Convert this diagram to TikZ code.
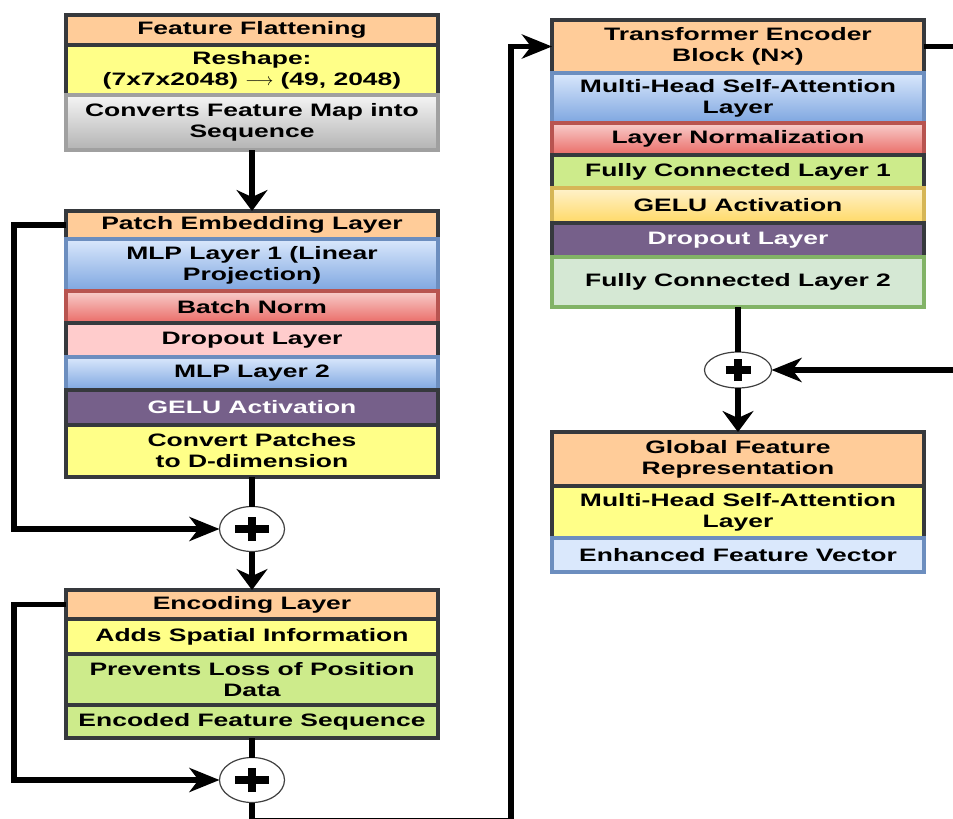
\documentclass[tikz,border=0pt]{standalone}
\usepackage{fontspec}
\setmainfont{Liberation Sans}[FakeStretch=1.47]
\usetikzlibrary{arrows.meta,positioning,shapes.geometric}

\definecolor{orangeF}{HTML}{FFCC99}
\definecolor{darkS}{HTML}{36393D}
\definecolor{yellowF}{HTML}{FFFF88}
\definecolor{blueT}{HTML}{DAE8FC}
\definecolor{blueB}{HTML}{7EA6E0}
\definecolor{blueS}{HTML}{6C8EBF}
\definecolor{redT}{HTML}{F8CECC}
\definecolor{redB}{HTML}{EA6B66}
\definecolor{redS}{HTML}{B85450}
\definecolor{pinkF}{HTML}{FFCCCC}
\definecolor{purpleF}{HTML}{76608A}
\definecolor{purpleS}{HTML}{432D57}
\definecolor{limeF}{HTML}{CDEB8B}
\definecolor{mintF}{HTML}{D5E8D4}
\definecolor{mintS}{HTML}{82B366}
\definecolor{goldT}{HTML}{FFF2CC}
\definecolor{goldB}{HTML}{FFD966}
\definecolor{goldS}{HTML}{D6B656}
\definecolor{grayT}{HTML}{F5F5F5}
\definecolor{grayB}{HTML}{B3B3B3}
\definecolor{grayS}{HTML}{A0A0A0}

\tikzset{
  row/.style={rectangle, draw=darkS, line width=3.5pt, outer sep=0pt, inner sep=0pt,
    minimum width=372pt, align=center, text=black,
    font=\bfseries\fontsize{18}{21}\selectfont},
  first/.style={row, anchor=north west},
  next/.style={row, below=0pt of #1},
  orangerow/.style={fill=orangeF},
  yellowrow/.style={fill=yellowF},
  pinkrow/.style={fill=pinkF},
  limerow/.style={fill=limeF},
  mintrow/.style={fill=mintF, draw=mintS},
  paleblue/.style={fill=blueT, draw=blueS},
  purplerow/.style={fill=purpleF, text=white},
  bluerow/.style={draw=blueS, top color=blueT, bottom color=blueB},
  redrow/.style={draw=redS, top color=redT, bottom color=redB},
  goldrow/.style={draw=goldS, top color=goldT, bottom color=goldB},
  grayrow/.style={draw=grayS, top color=grayT, bottom color=grayB},
  plus w/.store in=\plusw, plus h/.store in=\plush,
  plus w=17pt, plus h=12pt,
  sum/.style={ellipse, draw=black!75, line width=1.2pt, fill=white,
    minimum width=65pt, minimum height=45pt, inner sep=0pt, outer sep=0pt,
    path picture={
      \draw[draw=black, line width=7.5pt]
        ([xshift=-\plusw]path picture bounding box.center) --
        ([xshift=\plusw]path picture bounding box.center);
      \draw[draw=black, line width=7.5pt]
        ([yshift=-\plush]path picture bounding box.center) --
        ([yshift=\plush]path picture bounding box.center);}},
  conn/.style={line width=5.5pt, draw=black},
  vtip/.style={-{Stealth[length=21pt,width=31pt,inset=7pt]}},
  htip/.style={-{Stealth[length=30pt,width=24pt,inset=9pt]}},
}

\begin{document}
\begin{tikzpicture}[x=1pt,y=-1pt]
\useasboundingbox (0,0) rectangle (953,819);

% Feature flattening stack
\node[first, orangerow, minimum height=30pt] (ff) at (66,15) {Feature Flattening};
\node[next=ff, yellowrow, minimum height=50pt] (rs) {Reshape:\\(7x7x2048) $\longrightarrow$ (49, 2048)};
\node[next=rs, grayrow, minimum height=55pt] (cf) {Converts Feature Map into\\Sequence};

% Patch embedding stack
\node[first, orangerow, minimum height=28pt] (pe) at (66,211) {Patch Embedding Layer};
\node[next=pe, bluerow, minimum height=52pt] (mlpa) {MLP Layer 1 (Linear\\Projection)};
\node[next=mlpa, redrow, minimum height=32pt] (bn) {Batch Norm};
\node[next=bn, pinkrow, minimum height=34pt] (doa) {Dropout Layer};
\node[next=doa, bluerow, minimum height=33pt] (mlpb) {MLP Layer 2};
\node[next=mlpb, purplerow, minimum height=35pt] (gelua) {GELU Activation};
\node[next=gelua, yellowrow, minimum height=52pt] (cp) {Convert Patches\\to D-dimension};

% Positional encoding stack
\node[first, orangerow, minimum height=29pt] (enc) at (66,590) {Encoding Layer};
\node[next=enc, yellowrow, minimum height=35pt] (asi) {Adds Spatial Information};
\node[next=asi, limerow, minimum height=51pt] (plp) {Prevents Loss of Position\\Data};
\node[next=plp, limerow, minimum height=33pt] (efs) {Encoded Feature Sequence};

% Transformer encoder stack
\node[first, orangerow, minimum height=53pt] (te) at (552,20) {Transformer Encoder\\Block (N×)};
\node[next=te, bluerow, minimum height=50pt] (mha) {Multi-Head Self-Attention\\Layer};
\node[next=mha, redrow, minimum height=32pt] (ln) {Layer Normalization};
\node[next=ln, limerow, minimum height=33pt] (fca) {Fully Connected Layer 1};
\node[next=fca, goldrow, minimum height=35pt] (gelub) {GELU Activation};
\node[next=gelub, purplerow, minimum height=34pt] (dob) {Dropout Layer};
\node[next=dob, mintrow, minimum height=50pt] (fcb) {Fully Connected Layer 2};

% Global feature stack
\node[first, orangerow, minimum height=54pt] (gf) at (552,432) {Global Feature\\Representation};
\node[next=gf, yellowrow, minimum height=52pt] (mhb) {Multi-Head Self-Attention\\Layer};
\node[next=mhb, paleblue, minimum height=34pt] (efv) {Enhanced Feature Vector};

% Residual sums
\node[sum] (pa) at (252,529) {};
\node[sum] (pb) at (252,780) {};
\node[sum, minimum width=67pt, minimum height=36pt, plus w=12.5pt, plus h=11pt] (pc) at (738,370) {};

\coordinate (bl) at (511,821);
\coordinate (rt) at (962,370);

% Connectors
\draw[conn, vtip] (cf.south) -- (pe.north);
\draw[conn, htip] (pe.west) -- ++(-52,0) |- (pa.west);
\draw[conn] (cp.south) -- (pa.north);
\draw[conn, vtip] (pa.south) -- (enc.north);
\draw[conn, htip] (enc.west) -- ++(-52,0) |- (pb.west);
\draw[conn] (efs.south) -- (pb.north);
\draw[conn, htip] (pb.south) |- (bl) |- (te.west);
\draw[conn] (fcb.south) -- (pc.north);
\draw[conn, htip] (te.east) -| (rt) -- (pc.east);
\draw[conn, vtip] (pc.south) -- (gf.north);
\end{tikzpicture}
\end{document}
